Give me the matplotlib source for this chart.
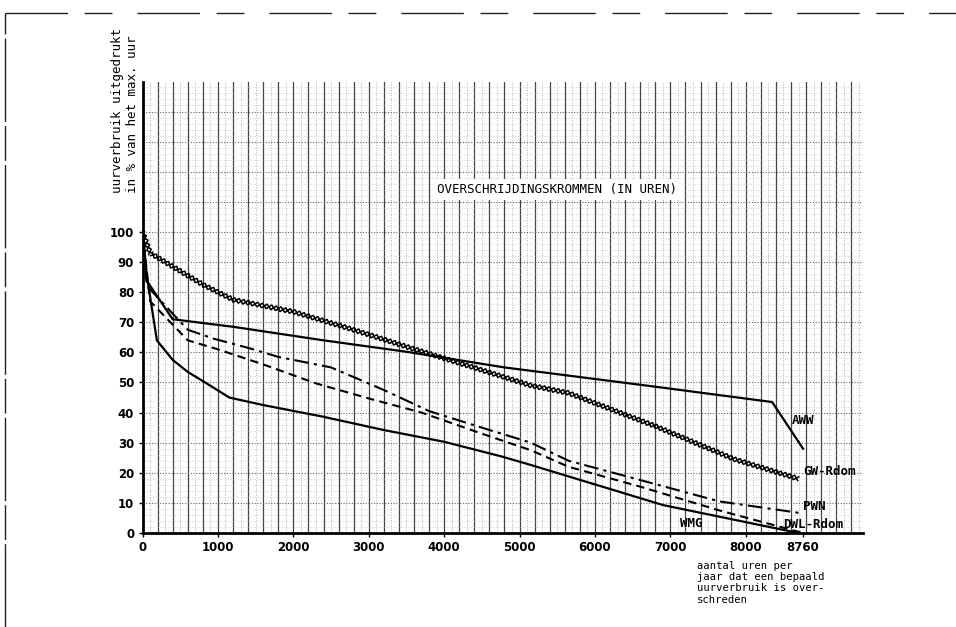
import numpy as np
import matplotlib
matplotlib.use('Agg')
import matplotlib.pyplot as plt
from matplotlib import patheffects, font_manager
from matplotlib.lines import Line2D

# overschrijdingskrommen: uurverbruik (% van max. uur) tegen aantal uren
aww_h = [0, 50, 400, 1200, 2400, 3500, 4800, 6800, 8350, 8760]
aww_v = [100, 84, 71, 68.5, 64, 60.2, 55, 48.6, 43.5, 28]

gw_h = [0, 100, 400, 800, 1200, 2000, 2800, 3550, 4350, 5150, 5650, 6800, 7850, 8700]
gw_v = [100, 93, 88.5, 82.5, 77.5, 73.5, 67.5, 61.5, 55.3, 49, 46.5, 35.5, 24.5, 18]

pwn_h = [0, 60, 600, 950, 1400, 1800, 2500, 3200, 3800, 4500, 5150, 5650, 6600, 7650, 8760]
pwn_v = [100, 82, 67.5, 64.5, 61.5, 58.5, 55, 47.5, 40.5, 35, 30, 24, 17.6, 10.5, 6.5]

dwl_h = [0, 100, 600, 1000, 1600, 2300, 3000, 3700, 4500, 5150, 5650, 6600, 7650, 8760]
dwl_v = [100, 77, 64, 61, 56, 49.7, 44.7, 40, 33, 27.5, 22, 15.4, 7.5, 0]

wmg_h = [0, 60, 190, 400, 600, 850, 1150, 1600, 2400, 3200, 4000, 4750, 5150, 6900, 8700]
wmg_v = [100, 85, 64, 57.5, 53.5, 49.7, 45, 42.5, 38.6, 34.2, 30.3, 25.5, 22.6, 9.3, 0]

x_ticks = [0, 1000, 2000, 3000, 4000, 5000, 6000, 7000, 8000, 8760]
y_ticks = [0, 10, 20, 30, 40, 50, 60, 70, 80, 90, 100]

mono = 'DejaVu Sans Mono'
installed = {f.name for f in font_manager.fontManager.ttflist}
numfont = 'Liberation Sans Narrow' if 'Liberation Sans Narrow' in installed else 'DejaVu Sans'

fig = plt.figure(figsize=(9.56, 6.27), dpi=100)
ax = fig.add_axes([0.1491, 0.1499, 0.7537, 0.7193])
ax.set_xlim(0, 9556)
ax.set_ylim(0, 149.8)

# ruitjespapier
for h in range(0, 9600, 100):
    if h % 200 == 0:
        ax.axvline(h, color='#444444', lw=0.9, zorder=1)
    else:
        ax.axvline(h, color='#999999', lw=0.6, ls=(0, (1, 2)), zorder=1)
for v in range(2, 150, 2):
    if v % 10 == 0:
        ax.axhline(v, color='#666666', lw=0.8, ls=(0, (1, 1.5)), zorder=1)
    else:
        ax.axhline(v, color='#b0b0b0', lw=0.5, ls=(0, (1, 2.5)), zorder=1)

ax.plot(aww_h, aww_v, color='black', lw=1.6, zorder=3)
ax.plot(gw_h, gw_v, color='black', lw=1.1, zorder=3,
        path_effects=[patheffects.TickedStroke(spacing=3.4, angle=45, length=0.6),
                      patheffects.TickedStroke(spacing=3.4, angle=-135, length=0.6),
                      patheffects.TickedStroke(spacing=3.4, angle=135, length=0.6),
                      patheffects.TickedStroke(spacing=3.4, angle=-45, length=0.6)])
ax.plot(pwn_h, pwn_v, color='black', lw=1.5, ls=(0, (7, 2.5, 1.5, 2.5)), zorder=3)
ax.plot(dwl_h, dwl_v, color='black', lw=1.5, ls=(0, (4, 2.5)), zorder=3)
ax.plot(wmg_h, wmg_v, color='black', lw=1.6, zorder=3)

lab = dict(fontfamily=mono, fontsize=9, fontweight='bold', va='center', ha='left', zorder=4)
ax.text(8615, 37.5, 'AWW', **lab)
ax.text(8760, 20.4, 'GW-Rdom', **lab)
ax.text(8760, 8.8, 'PWN', **lab)
ax.text(8490, 2.7, 'DWL-Rdom', **lab)
ax.text(7130, 3, 'WMG', **lab)

ax.text(5497, 114, 'OVERSCHRIJDINGSKROMMEN (IN UREN)', fontfamily=mono, fontsize=9,
        ha='center', va='center', zorder=4,
        bbox=dict(facecolor='white', edgecolor='none', pad=3))

for s in ['top', 'right']:
    ax.spines[s].set_visible(False)
for s in ['left', 'bottom']:
    ax.spines[s].set_linewidth(2)
    ax.spines[s].set_zorder(5)

ax.set_xticks(x_ticks)
ax.set_xticklabels([str(t) for t in x_ticks], fontfamily=numfont, fontsize=8.5, fontweight='bold')
ax.set_yticks(y_ticks)
ax.set_yticklabels([str(t) for t in y_ticks], fontfamily=numfont, fontsize=8.5, fontweight='bold')
ax.tick_params(axis='both', length=3, width=1, pad=3)

fig.text(125 / 956, 1 - 193 / 627, 'uurverbruik uitgedrukt\nin % van het max. uur',
         rotation=90, fontfamily=mono, fontsize=9, ha='center', va='bottom',
         multialignment='left', linespacing=1.1)
fig.text(697 / 956, 1 - 561 / 627,
         'aantal uren per\njaar dat een bepaald\nuurverbruik is over-\nschreden',
         fontfamily=mono, fontsize=7.6, ha='left', va='top', linespacing=1.15)

# rand van het gescande blad
fig.add_artist(Line2D([5 / 956, 1], [1 - 13 / 627] * 2, transform=fig.transFigure,
                      color='#222222', lw=1, ls=(0, (45, 12, 20, 18))))
fig.add_artist(Line2D([5 / 956] * 2, [0, 1 - 13 / 627], transform=fig.transFigure,
                      color='#222222', lw=1, ls=(0, (60, 3, 25, 3))))

fig.savefig('out.png', dpi=100)
